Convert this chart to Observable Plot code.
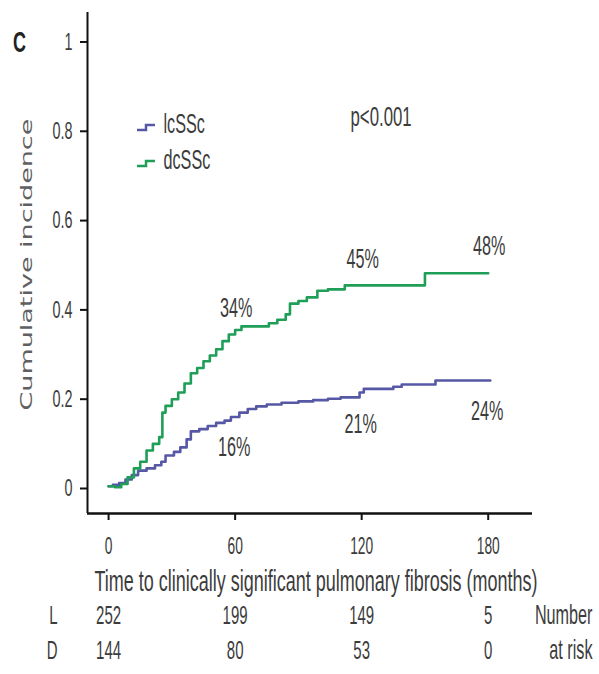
<!DOCTYPE html>
<html>
<head>
<meta charset="utf-8">
<script src="https://cdn.jsdelivr.net/npm/d3@7"></script>
<script src="https://cdn.jsdelivr.net/npm/@observablehq/plot@0.6"></script>
<style>
  body { margin: 0; background: #fff; }
  #chart { width: 599px; }
  #chart svg { display: block; }
</style>
</head>
<body>
<div id="chart"></div>
<script>
// ---- data ----
const seriesNames = ["lcSSc", "dcSSc"];
const seriesColors = ["#5658a5", "#1e9e57"];

const lcTime  = [0, 2, 5, 8, 11, 14, 18, 22, 25, 27, 31, 34, 37, 39, 43, 47, 51, 55, 58, 62, 66, 70, 75, 82, 90, 97, 104, 110, 119, 121, 135, 139, 155, 181];
const lcValue = [0.005, 0.008, 0.012, 0.02, 0.03, 0.04, 0.045, 0.052, 0.06, 0.074, 0.082, 0.092, 0.11, 0.128, 0.133, 0.14, 0.147, 0.152, 0.16, 0.17, 0.178, 0.184, 0.188, 0.192, 0.195, 0.198, 0.201, 0.204, 0.215, 0.223, 0.228, 0.233, 0.242, 0.242];

const dcTime  = [0, 3, 6, 9, 12, 15, 18, 21, 24, 25.5, 27, 30, 33, 36, 39, 42, 45, 48, 51, 54, 57, 60, 63, 76, 80, 84, 86, 90, 94, 99, 104, 112, 150, 180];
const dcValue = [0.005, 0.003, 0.01, 0.025, 0.045, 0.06, 0.085, 0.1, 0.115, 0.17, 0.185, 0.2, 0.215, 0.235, 0.258, 0.27, 0.285, 0.298, 0.312, 0.33, 0.345, 0.355, 0.363, 0.37, 0.378, 0.39, 0.414, 0.42, 0.428, 0.443, 0.446, 0.455, 0.482, 0.482];

const xTicks = [0, 60, 120, 180];
const yTicks = [0, 0.2, 0.4, 0.6, 0.8, 1];

const annTimes = [60, 120, 180];
const lcPct = [16, 21, 24];
const dcPct = [34, 45, 48];

const riskGroups = ["L", "D"];
const riskL = [252, 199, 149, 5];
const riskD = [144, 80, 53, 0];
const riskSide = ["Number", "at risk"];

const panelLabel = "C";
const pLabel = "p<0.001";
const xLabel = "Time to clinically significant pulmonary fibrosis (months)";
const yLabel = "Cumulative incidence";

// ---- build tables ----
const lcData = lcTime.map((t, i) => ({t, v: lcValue[i]}));
const dcData = dcTime.map((t, i) => ({t, v: dcValue[i]}));
const lcAnn = annTimes.map((t, i) => ({t, v: lcPct[i] / 100, label: lcPct[i] + "%"}));
const dcAnn = annTimes.map((t, i) => ({t, v: dcPct[i] / 100, label: dcPct[i] + "%"}));
const riskRows = [
  ...xTicks.map((t, i) => ({t, g: riskGroups[0], n: riskL[i]})),
  ...xTicks.map((t, i) => ({t, g: riskGroups[1], n: riskD[i]}))
];

const xDomain = [-10, 201];
const yDomain = [-0.056, 1.066];
const font = "'Liberation Sans', Arial, sans-serif";
const textColor = "#3c3c3c";

function legendIcons(index, scales, values, dims) {
  const ns = "http://www.w3.org/2000/svg";
  const g = document.createElementNS(ns, "g");
  seriesNames.forEach((name, i) => {
    const p = document.createElementNS(ns, "path");
    const x0 = dims.marginLeft + 50;
    const y0 = dims.marginTop + 118 + i * 36;
    p.setAttribute("d", `M${x0},${y0} h9 v-5 h9`);
    p.setAttribute("fill", "none");
    p.setAttribute("stroke", seriesColors[i]);
    p.setAttribute("stroke-width", 2.5);
    g.appendChild(p);
  });
  return g;
}

const main = Plot.plot({
  width: 599,
  height: 599,
  marginLeft: 87,
  marginRight: 67,
  marginTop: 12,
  marginBottom: 86,
  style: {fontFamily: font, color: textColor, background: "#fff"},
  x: {domain: xDomain},
  y: {domain: yDomain},
  marks: [
    Plot.axisY(yTicks, {tickSize: 7, tickPadding: 8, fontSize: 24, strokeWidth: 2, stroke: "#111", fill: textColor, tickFormat: d => String(d), label: null}),
    Plot.axisX(xTicks, {tickSize: 7, tickPadding: 17, fontSize: 23, strokeWidth: 2, stroke: "#111", fill: textColor, label: null}),
    Plot.ruleX([xDomain[0]], {stroke: "#111", strokeWidth: 2}),
    Plot.ruleY([yDomain[0]], {stroke: "#111", strokeWidth: 2.5}),
    Plot.line(lcData, {x: "t", y: "v", curve: "step-after", stroke: seriesColors[0], strokeWidth: 2.6}),
    Plot.line(dcData, {x: "t", y: "v", curve: "step-after", stroke: seriesColors[1], strokeWidth: 2.6}),
    Plot.text(dcAnn, {x: "t", y: "v", text: "label", dx: 1, dy: -28, fontSize: 27, fill: textColor}),
    Plot.text(lcAnn, {x: "t", y: "v", text: "label", dx: -1, dy: 30, fontSize: 27, fill: textColor}),
    Plot.text([pLabel], {frameAnchor: "top-left", dx: 263, dy: 105, textAnchor: "start", lineAnchor: "middle", fontSize: 28, fill: textColor}),
    legendIcons,
    ...seriesNames.map((name, i) => Plot.text([name], {frameAnchor: "top-left", dx: 76, dy: 112 + i * 36, textAnchor: "start", lineAnchor: "middle", fontSize: 27, fill: textColor})),
    Plot.text([panelLabel], {frameAnchor: "top-left", dx: -68, dy: 30, textAnchor: "middle", lineAnchor: "middle", fontSize: 30, fontWeight: "bold", fill: "#222"}),
    Plot.text([yLabel], {frameAnchor: "bottom-left", dx: -60, dy: -103, rotate: -90, textAnchor: "start", lineAnchor: "middle", fontSize: 15, fill: "#606060", fontFamily: "'DejaVu Sans', Verdana, sans-serif"}),
    Plot.text([xLabel], {frameAnchor: "bottom", dx: 6, dy: 68, lineAnchor: "middle", fontSize: 30, fill: textColor})
  ]
});

const risk = Plot.plot({
  width: 599,
  height: 75,
  marginLeft: 87,
  marginRight: 67,
  marginTop: 16,
  marginBottom: 24,
  style: {fontFamily: font, color: textColor, background: "#fff"},
  x: {domain: xDomain, axis: null},
  y: {domain: riskGroups, axis: null, padding: 0},
  marks: [
    Plot.axisY(riskGroups, {tickSize: 0, tickPadding: 30, fontSize: 25, fill: textColor, label: null}),
    Plot.text(riskRows, {x: "t", y: "g", text: "n", fontSize: 25, fill: textColor}),
    Plot.text(riskSide, {y: (d, i) => riskGroups[i], frameAnchor: "right", dx: 60, textAnchor: "end", fontSize: 27, fill: textColor})
  ]
});

document.getElementById("chart").append(main, risk);

// the reference's lettering is tall and narrow: condense glyphs horizontally
// (a scale about each text's own anchor point, so its alignment is kept)
function condense(svg, factor) {
  svg.querySelectorAll("text").forEach(t => {
    let tr = t.getAttribute("transform") || "";
    const x = parseFloat(t.getAttribute("x"));
    if (x) { t.removeAttribute("x"); tr = `translate(${x},0) ` + tr; }
    if (t.textContent === yLabel) {
      const L = t.getComputedTextLength();
      t.setAttribute("transform", `${tr} scale(${(292 / L).toFixed(3)},1)`);
    } else {
      t.setAttribute("transform", `${tr} scale(${factor},1)`);
    }
  });
}
condense(main, 0.6);
condense(risk, 0.6);
</script>
</body>
</html>
